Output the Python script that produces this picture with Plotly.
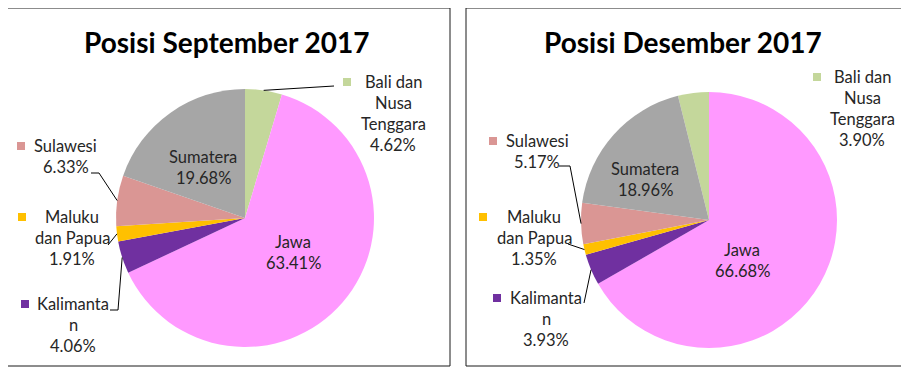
import math
import plotly.graph_objects as go

# ---- data ----
regions = ["Bali dan Nusa Tenggara", "Jawa", "Kalimantan", "Maluku dan Papua", "Sulawesi", "Sumatera"]
sep_values = [4.62, 63.41, 4.06, 1.91, 6.33, 19.68]
dec_values = [3.90, 66.68, 3.93, 1.35, 5.17, 18.96]
label_lines = {
    "Bali dan Nusa Tenggara": ["Bali dan", "Nusa", "Tenggara"],
    "Jawa": ["Jawa"],
    "Kalimantan": ["Kalimanta", "n"],
    "Maluku dan Papua": ["Maluku", "dan Papua"],
    "Sulawesi": ["Sulawesi"],
    "Sumatera": ["Sumatera"],
}
titles = ["Posisi September 2017", "Posisi Desember 2017"]
colors = ["#C4D79B", "#FF99FF", "#7030A0", "#FFC000", "#DA9694", "#A6A6A6"]

# page is rendered with the browser's default 8px body margin
OFF = 8
W, H = 909 - OFF, 376 - OFF
FONT = "Lato"
TXT = "#262626"

def px(x):
    return (x - OFF) / W

def py(y):
    return 1 - (y - OFF) / H

panels = [
    dict(values=sep_values, title=titles[0], box=(7, 8, 450, 366), cx=245, cy=218, r=129,
         rot=0.0, title_x=227,
         labels={
             "Bali dan Nusa Tenggara": dict(tx=393, ty=82, kx=347, line=[(334, 86)]),
             "Sulawesi": dict(tx=66, ty=146, kx=21, line=[(99, 173), (91, 173)]),
             "Maluku dan Papua": dict(tx=72, ty=217, kx=22, line=[(108, 245)]),
             "Kalimantan": dict(tx=73, ty=304, kx=25, line=[(118, 310), (110, 310)]),
             "Sumatera": dict(tx=203, ty=157),
             "Jawa": dict(tx=293, ty=242),
         }),
    dict(values=dec_values, title=titles[1], box=(466, 8, 903, 366), cx=709, cy=220, r=128,
         rot=None, title_x=683,
         labels={
             "Bali dan Nusa Tenggara": dict(tx=862, ty=77, kx=817, line=None),
             "Sulawesi": dict(tx=537, ty=141, kx=493, line=[(570, 166), (559, 166)]),
             "Maluku dan Papua": dict(tx=534, ty=217, kx=483, line=[(568, 244)]),
             "Kalimantan": dict(tx=546, ty=298, kx=497, line=[(584, 303)]),
             "Sumatera": dict(tx=645, ty=169),
             "Jawa": dict(tx=742, ty=250),
         }),
]

fig = go.Figure()
shapes = []
annotations = []
LH = 21

for p in panels:
    vals = p["values"]
    total = sum(vals)
    if p["rot"] is None:
        # Jawa starts at 12 o'clock -> Bali slice sits just left of top
        p["rot"] = -vals[0] / total * 360
    cx, cy, r = p["cx"], p["cy"], p["r"]
    fig.add_trace(go.Pie(
        labels=regions, values=vals, sort=False, direction="clockwise",
        rotation=p["rot"], textinfo="none", hoverinfo="label+percent",
        marker=dict(colors=colors, line=dict(width=0)),
        domain=dict(x=[px(cx - r), px(cx + r)], y=[py(cy + r), py(cy - r)]),
        showlegend=False,
    ))
    x0, y0, x1, y1 = p["box"]
    shapes.append(dict(type="rect", xref="paper", yref="paper",
                       x0=px(x0), x1=px(x1), y0=py(y1), y1=py(y0),
                       line=dict(color="#1a1a1a", width=1), fillcolor="rgba(0,0,0,0)"))
    annotations.append(dict(text="<b>" + p["title"] + "</b>", x=px(p["title_x"]), y=py(42),
                            xref="paper", yref="paper", showarrow=False,
                            xanchor="center", yanchor="middle",
                            font=dict(family=FONT, size=28, color="#000000")))
    cum = 0.0
    for name, v, col in zip(regions, vals, colors):
        mid = cum + v / 2
        cum += v
        L = p["labels"][name]
        lines = label_lines[name] + ["%.2f%%" % v]
        for i, t in enumerate(lines):
            annotations.append(dict(text=t, x=px(L["tx"]), y=py(L["ty"] + i * LH),
                                    xref="paper", yref="paper", showarrow=False,
                                    xanchor="center", yanchor="middle",
                                    font=dict(family=FONT, size=16.5, color=TXT)))
        if "kx" in L:
            k = 4
            shapes.append(dict(type="rect", xref="paper", yref="paper",
                               x0=px(L["kx"] - k), x1=px(L["kx"] + k),
                               y0=py(L["ty"] + k), y1=py(L["ty"] - k),
                               line=dict(width=0), fillcolor=col))
        if L.get("line"):
            ang = math.radians(p["rot"] + mid / total * 360)
            sx = cx + r * math.sin(ang)
            sy = cy - r * math.cos(ang)
            pts = [(sx, sy)] + L["line"]
            for (ax, ay), (bx, by) in zip(pts[:-1], pts[1:]):
                shapes.append(dict(type="line", xref="paper", yref="paper",
                                   x0=px(ax), y0=py(ay), x1=px(bx), y1=py(by),
                                   line=dict(color="#000000", width=1)))

fig.update_layout(width=W, height=H, margin=dict(l=0, r=0, t=0, b=0),
                  paper_bgcolor="white", plot_bgcolor="white",
                  shapes=shapes, annotations=annotations)
fig.write_html("out.html")
